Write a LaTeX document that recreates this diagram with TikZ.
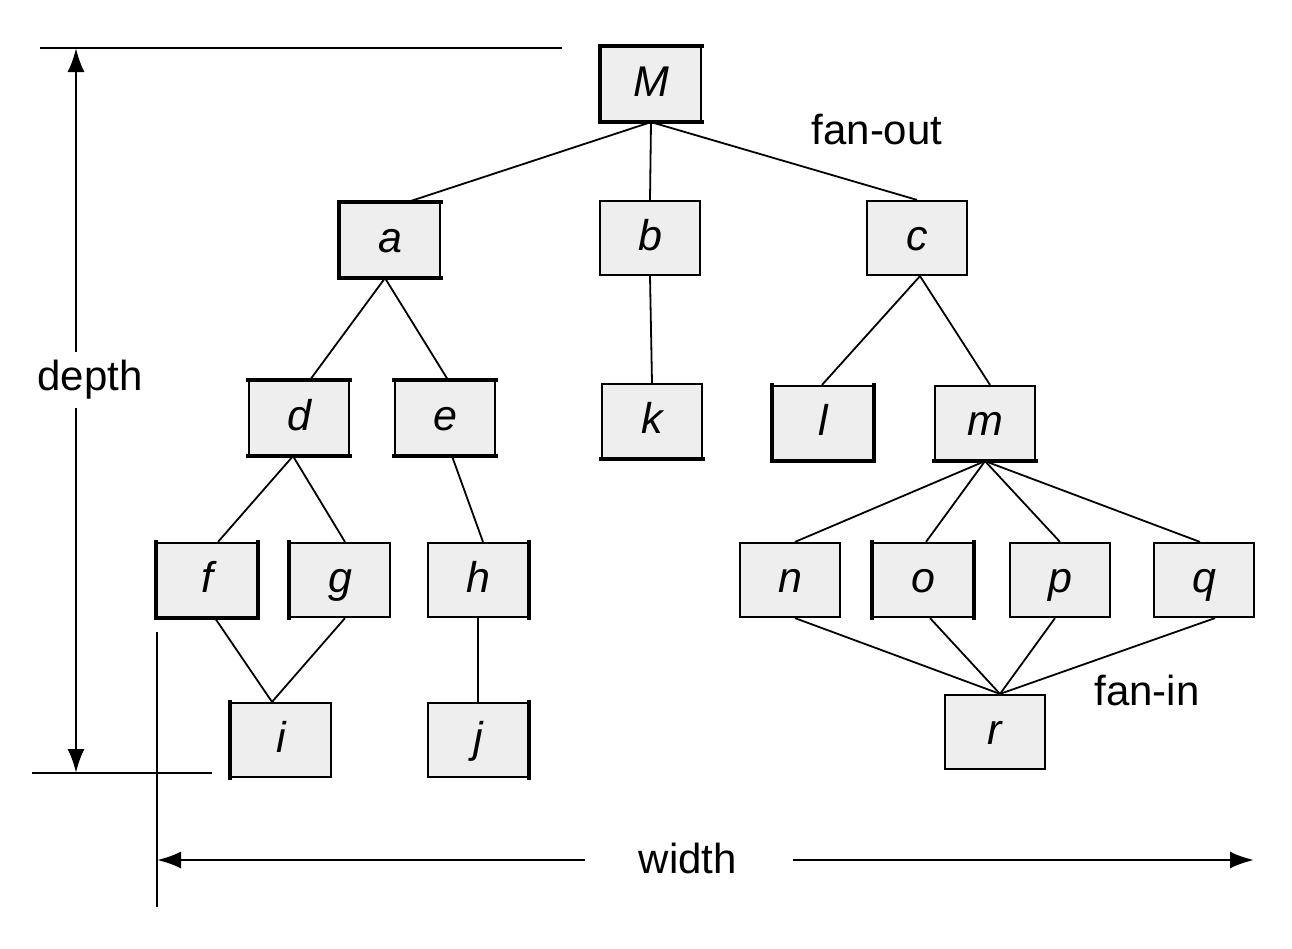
\documentclass[tikz,border=0pt]{standalone}
\usepackage{fontspec}
\setmainfont{Liberation Sans}
\usetikzlibrary{arrows.meta}
\definecolor{boxfill}{HTML}{EEEEEE}
\tikzset{
  box/.style={draw=black, fill=boxfill, line width=2.2pt, minimum width=100pt, minimum height=74pt, inner sep=0pt,
    text height=31pt, text depth=7pt,
    font=\fontsize{43}{50}\selectfont\itshape},
  edge/.style={line width=1.8pt},
  side/.style={line width=4.5pt, line cap=rect},
  dim/.style={line width=2.6pt},
  tip/.style={-{Latex[length=24pt,width=17pt]}},
  lbl/.style={font=\fontsize{42}{50}\selectfont, inner sep=0pt}
}
\begin{document}
\begin{tikzpicture}[x=1pt,y=-1pt]
\useasboundingbox (0,0) rectangle (1292,948);
% nodes
\node[box] (M) at (651,84) {M};
\node[box] (a) at (390,240) {a};
\node[box] (b) at (650,238) {b};
\node[box] (c) at (917,238) {c};
\node[box] (d) at (299,418) {d};
\node[box] (e) at (445,418) {e};
\node[box] (k) at (652,421) {k};
\node[box] (l) at (823,423) {l};
\node[box] (m) at (985,423) {m};
\node[box] (f) at (207,580) {f};
\node[box] (g) at (340,580) {g};
\node[box] (h) at (478,580) {h};
\node[box] (n) at (790,580) {n};
\node[box] (o) at (923,580) {o};
\node[box] (p) at (1060,580) {p};
\node[box] (q) at (1204,580) {q};
\node[box] (i) at (281,740) {i};
\node[box] (j) at (478,740) {j};
\node[box] (r) at (995,732) {r};
% thick sides
\draw[side] (M.north west) -- (M.north east);
\draw[side] (M.north west) -- (M.south west) -- (M.south east);
\draw[side] (a.north west) -- (a.north east);
\draw[side] (a.north west) -- (a.south west) -- (a.south east);
\draw[side] (d.north west) -- (d.north east);
\draw[side] (d.south west) -- (d.south east);
\draw[side] (e.north west) -- (e.north east);
\draw[side] (e.south west) -- (e.south east);
\draw[side] (k.south west) -- (k.south east);
\draw[side] (l.north west) -- (l.south west) -- (l.south east) -- (l.north east);
\draw[side] (m.south west) -- (m.south east);
\draw[side] (f.north west) -- (f.south west) -- (f.south east) -- (f.north east);
\draw[side] (g.north west) -- (g.south west);
\draw[side] (h.north east) -- (h.south east);
\draw[side] (j.north east) -- (j.south east);
\draw[side] (o.north west) -- (o.south west);
\draw[side] (o.north east) -- (o.south east);
\draw[side] (i.north west) -- (i.south west);
% connectors
\draw[edge] (M.south) -- ([xshift=18pt]a.north);
\draw[edge] (M.south) -- (b.north);
\draw[edge] (M.south) -- (c.north);
\draw[edge] ([xshift=-5pt]a.south) -- ([xshift=11pt]d.north);
\draw[edge] ([xshift=-5pt]a.south) -- ([xshift=3pt]e.north);
\draw[edge] (b.south) -- (k.north);
\draw[edge] ([xshift=3pt]c.south) -- ([xshift=-1pt]l.north);
\draw[edge] ([xshift=3pt]c.south) -- ([xshift=5pt]m.north);
\draw[edge] ([xshift=-6pt]d.south) -- ([xshift=11pt]f.north);
\draw[edge] ([xshift=-6pt]d.south) -- ([xshift=5pt]g.north);
\draw[edge] ([xshift=7pt]e.south) -- ([xshift=5pt]h.north);
\draw[edge] (h.south) -- (j.north);
\draw[edge] (m.south) -- ([xshift=5pt]n.north);
\draw[edge] (m.south) -- ([xshift=3pt]o.north);
\draw[edge] (m.south) -- (p.north);
\draw[edge] (m.south) -- ([xshift=-4pt]q.north);
\draw[edge] ([xshift=8pt]f.south) -- ([xshift=-9pt]i.north);
\draw[edge] ([xshift=5pt]g.south) -- ([xshift=-9pt]i.north);
\draw[edge] ([xshift=5pt]n.south) -- ([xshift=5pt]r.north);
\draw[edge] ([xshift=7pt]o.south) -- ([xshift=5pt]r.north);
\draw[edge] ([xshift=-5pt]p.south) -- ([xshift=5pt]r.north);
\draw[edge] ([xshift=11pt]q.south) -- ([xshift=5pt]r.north);
% labels
\node[lbl] (fanout) at (877,130) {fan-out};
\node[lbl] (fanin) at (1147,690) {fan-in};
\node[lbl] (depth) at (90,380) {depth};
\node[lbl] (width) at (688,858) {width};
% dimension lines
\coordinate (topL) at (40,48);
\coordinate (topR) at (562,48);
\coordinate (botL) at (32,773);
\coordinate (botR) at (212,773);
\coordinate (depthTop) at (76,48);
\coordinate (depthBot) at (76,773);
\coordinate (depthA) at (76,352);
\coordinate (depthB) at (76,408);
\coordinate (vTop) at (157,632);
\coordinate (vBot) at (157,907);
\coordinate (wL) at (157,860);
\coordinate (wR) at (1254,860);
\coordinate (wA) at (585,860);
\coordinate (wB) at (793,860);
\draw[dim] (topL) -- (topR);
\draw[dim] (botL) -- (botR);
\draw[dim] (vTop) -- (vBot);
\draw[dim,tip] (depthA) -- (depthTop);
\draw[dim,tip] (depthB) -- (depthBot);
\draw[dim,tip] (wA) -- (wL);
\draw[dim,tip] (wB) -- (wR);
\end{tikzpicture}
\end{document}
